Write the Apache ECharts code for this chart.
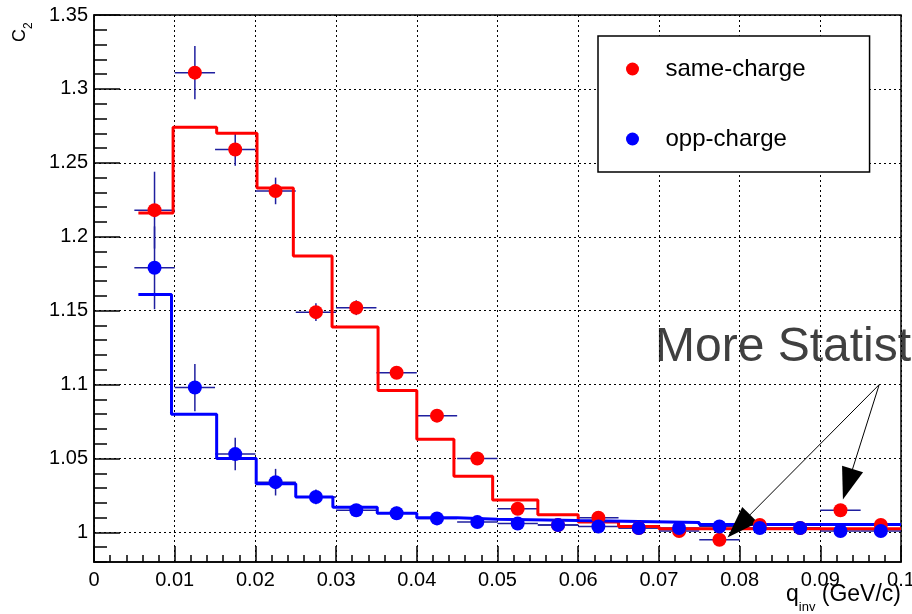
<!DOCTYPE html>
<html>
<head>
<meta charset="utf-8">
<script src="https://cdn.jsdelivr.net/npm/echarts@6/dist/echarts.min.js"></script>
<style>
html, body { margin: 0; padding: 0; background: #fff; }
#main { width: 912px; height: 614px; }
</style>
</head>
<body>
<div id="main"></div>
<script>
// bin centres of q_inv (GeV/c), bins are 0.005 wide
const qCenters = [0.0075, 0.0125, 0.0175, 0.0225, 0.0275, 0.0325, 0.0375, 0.0425, 0.0475, 0.0525,
                  0.0575, 0.0625, 0.0675, 0.0725, 0.0775, 0.0825, 0.0875, 0.0925, 0.0975];
const binHalf = 0.0025;

// same-charge C2 points and errors
const sameC2 = [1.218, 1.311, 1.259, 1.231, 1.149, 1.152, 1.108, 1.079, 1.050, 1.016,
                1.005, 1.010, 1.003, 1.001, 0.995, 1.005, 1.003, 1.015, 1.005];
const sameErr = [0.026, 0.018, 0.011, 0.009, 0.006, 0.005, 0.004, 0.003, 0.003, 0.003,
                 0.003, 0.003, 0.002, 0.002, 0.002, 0.002, 0.002, 0.002, 0.002];

// opp-charge C2 points and errors
const oppC2 = [1.179, 1.098, 1.053, 1.034, 1.024, 1.015, 1.013, 1.0095, 1.007, 1.006,
               1.005, 1.004, 1.003, 1.003, 1.004, 1.003, 1.003, 1.001, 1.001];
const oppErr = [0.028, 0.016, 0.011, 0.009, 0.005, 0.004, 0.0045, 0.003, 0.003, 0.003,
                0.003, 0.003, 0.002, 0.002, 0.002, 0.002, 0.002, 0.002, 0.002];

// fit curves (stairs), value holds from each q until the next one
const sameFitQ = [0.0055, 0.0098, 0.0152, 0.0202, 0.0247, 0.0295, 0.0352, 0.0400, 0.0446, 0.0494,
                  0.0550, 0.0600, 0.0650, 0.0700, 0.1000];
const sameFitC2 = [1.216, 1.274, 1.270, 1.233, 1.187, 1.139, 1.096, 1.063, 1.038, 1.022,
                   1.012, 1.007, 1.004, 1.0025, 1.0025];
const oppFitQ = [0.0055, 0.0096, 0.0152, 0.0201, 0.0250, 0.0296, 0.0351, 0.0400, 0.0450, 0.0500,
                 0.0600, 0.0750, 0.1000];
const oppFitC2 = [1.161, 1.080, 1.050, 1.033, 1.024, 1.017, 1.013, 1.010, 1.009, 1.008,
                  1.0068, 1.0054, 1.0054];

// y axis ticks
const yMajorTicks = [1, 1.05, 1.1, 1.15, 1.2, 1.25, 1.3, 1.35];

// annotation arrows: [start, end] in data coords
const arrowFrom = [0.0973, 1.100];
const arrowTo = [[0.0799, 1.0043], [0.0934, 1.0326]];

const FONT = 'Liberation Sans';

var dom = document.getElementById('main');
var myChart = echarts.init(dom, null, { renderer: 'canvas' });

function errorBars(name, values, errors) {
  return {
    name: name,
    type: 'custom',
    silent: true,
    z: 3,
    data: qCenters.map((q, i) => [q, values[i], errors[i]]),
    renderItem: function (params, api) {
      const x = api.value(0), y = api.value(1), e = api.value(2);
      const l = api.coord([x - binHalf, y]);
      const r = api.coord([x + binHalf, y]);
      const t = api.coord([x, y + e]);
      const b = api.coord([x, y - e]);
      const style = { stroke: '#1f1f9f', lineWidth: 1.5 };
      return {
        type: 'group',
        children: [
          { type: 'line', shape: { x1: l[0], y1: l[1], x2: r[0], y2: r[1] }, style: style },
          { type: 'line', shape: { x1: t[0], y1: t[1], x2: b[0], y2: b[1] }, style: style }
        ]
      };
    }
  };
}

var option = {
  backgroundColor: '#fff',
  animation: false,
  textStyle: { fontFamily: FONT },
  grid: {
    left: 94, right: 11, top: 15, bottom: 52,
    show: true, borderColor: '#000', borderWidth: 1.5,
    outerBoundsMode: 'none'
  },
  legend: {
    left: 598, top: 36,
    orient: 'vertical',
    itemWidth: 56, itemHeight: 13,
    itemGap: 44,
    padding: [20, 64, 20, 28],
    borderColor: '#000', borderWidth: 1.5,
    backgroundColor: '#fff',
    textStyle: { fontSize: 24, lineHeight: 26, color: '#000', fontFamily: FONT },
    data: [
      { name: 'same-charge', icon: 'circle' },
      { name: 'opp-charge', icon: 'circle' }
    ]
  },
  xAxis: {
    type: 'value',
    min: 0, max: 0.1, interval: 0.01,
    axisLine: { lineStyle: { color: '#000', width: 1.5 } },
    axisTick: { inside: true, length: 16, lineStyle: { color: '#000', width: 1.5 } },
    minorTick: { show: true, splitNumber: 5, length: 7, lineStyle: { color: '#000', width: 1.5 } },
    axisLabel: {
      fontSize: 20, color: '#000', margin: 8, fontFamily: FONT,
      formatter: v => String(Number(v.toFixed(3)))
    },
    splitLine: { show: true, lineStyle: { color: '#000', type: [2, 3], width: 1 } }
  },
  yAxis: [
    {
      type: 'value',
      min: 0.98, max: 1.35,
      position: 'left',
      axisLine: { lineStyle: { color: '#000', width: 1.5 } },
      axisTick: { inside: true, length: 26, customValues: yMajorTicks, lineStyle: { color: '#000', width: 1.5 } },
      axisLabel: {
        fontSize: 20, color: '#000', margin: 6, fontFamily: FONT,
        customValues: yMajorTicks,
        formatter: v => String(Number(v.toFixed(3)))
      },
      splitLine: { show: true, lineStyle: { color: '#000', type: [2, 3], width: 1 } }
    },
    {
      type: 'value',
      min: 0.98, max: 1.35, interval: 0.01,
      position: 'left',
      axisLine: { show: false },
      axisTick: { inside: true, length: 13, lineStyle: { color: '#000', width: 1.5 } },
      axisLabel: { show: false },
      splitLine: { show: false }
    }
  ],
  graphic: [
    {
      type: 'text', x: 11, y: 42, rotation: Math.PI / 2,
      style: {
        text: '{c|C}{s|2}', textAlign: 'left', textVerticalAlign: 'top',
        rich: {
          c: { fontSize: 18, fontFamily: FONT, fill: '#000', lineHeight: 24, verticalAlign: 'top' },
          s: { fontSize: 12, fontFamily: FONT, fill: '#000', lineHeight: 24, verticalAlign: 'bottom' }
        }
      }
    },
    {
      type: 'text', x: 901, y: 583,
      style: {
        text: '{q|q}{s|inv}{t| (GeV/c)}', textAlign: 'right', textVerticalAlign: 'top',
        rich: {
          q: { fontSize: 23, fontFamily: FONT, fill: '#000', lineHeight: 31, verticalAlign: 'top' },
          s: { fontSize: 13, fontFamily: FONT, fill: '#000', lineHeight: 31, verticalAlign: 'bottom' },
          t: { fontSize: 23, fontFamily: FONT, fill: '#000', lineHeight: 31, verticalAlign: 'top' }
        }
      }
    },
    {
      type: 'text', x: 655, y: 372,
      style: {
        text: 'More Statist', fontSize: 48, fontFamily: FONT, fill: '#404040',
        textAlign: 'left', textVerticalAlign: 'bottom'
      }
    }
  ],
  series: [
    errorBars('same-charge errors', sameC2, sameErr),
    errorBars('opp-charge errors', oppC2, oppErr),
    {
      name: 'same-charge fit',
      type: 'line',
      step: 'end',
      showSymbol: false,
      silent: true,
      z: 4,
      lineStyle: { color: '#ff0000', width: 3 },
      data: sameFitQ.map((q, i) => [q, sameFitC2[i]])
    },
    {
      name: 'opp-charge fit',
      type: 'line',
      step: 'end',
      showSymbol: false,
      silent: true,
      z: 4,
      lineStyle: { color: '#0000ff', width: 3 },
      data: oppFitQ.map((q, i) => [q, oppFitC2[i]])
    },
    {
      name: 'same-charge',
      type: 'scatter',
      symbol: 'circle',
      symbolSize: 14,
      z: 5,
      itemStyle: { color: '#ff0000', opacity: 1 },
      data: qCenters.map((q, i) => [q, sameC2[i]]),
      markLine: {
        silent: true,
        symbol: ['none', 'triangle'],
        symbolSize: [22, 32],
        label: { show: false },
        lineStyle: { color: '#000', width: 1, type: 'solid' },
        itemStyle: { color: '#000' },
        emphasis: { disabled: true },
        data: arrowTo.map(p => [{ coord: arrowFrom }, { coord: p }])
      }
    },
    {
      name: 'opp-charge',
      type: 'scatter',
      symbol: 'circle',
      symbolSize: 14,
      z: 5,
      itemStyle: { color: '#0000ff', opacity: 1 },
      data: qCenters.map((q, i) => [q, oppC2[i]])
    }
  ]
};

if (option && typeof option === 'object') {
  myChart.setOption(option);
}
</script>
</body>
</html>
